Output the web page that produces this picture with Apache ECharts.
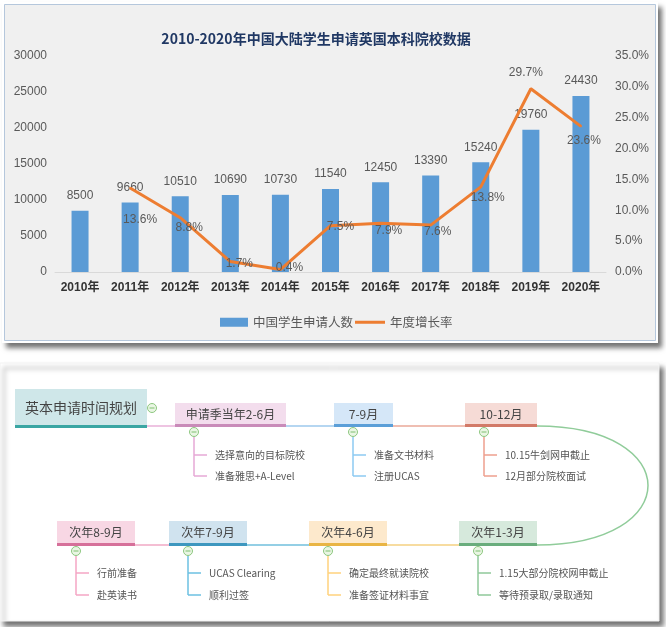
<!DOCTYPE html>
<html>
<head>
<meta charset="utf-8">
<script src="https://cdn.jsdelivr.net/npm/echarts@6/dist/echarts.min.js"></script>
<style>
html,body{margin:0;padding:0;background:#fff;}
#chart{width:666px;height:627px;}
</style>
</head>
<body>
<div id="chart"></div>
<script>
// ---------- data ----------
const chartTitle = '2010-2020年中国大陆学生申请英国本科院校数据';
const years = ['2010年','2011年','2012年','2013年','2014年','2015年','2016年','2017年','2018年','2019年','2020年'];
const applicants = [8500, 9660, 10510, 10690, 10730, 11540, 12450, 13390, 15240, 19760, 24430];
const growthRate = [null, 13.6, 8.8, 1.7, 0.4, 7.5, 7.9, 7.6, 13.8, 29.7, 23.6];
const seriesNames = ['中国学生申请人数', '年度增长率'];

const mapRoot = '英本申请时间规划';
const topStages = ['申请季当年2-6月', '7-9月', '10-12月'];
const topTasks = [
  ['选择意向的目标院校', '准备雅思+A-Level'],
  ['准备文书材料', '注册UCAS'],
  ['10.15牛剑网申截止', '12月部分院校面试']
];
const bottomStages = ['次年1-3月', '次年4-6月', '次年7-9月', '次年8-9月'];
const bottomTasks = [
  ['1.15大部分院校网申截止', '等待预录取/录取通知'],
  ['确定最终就读院校', '准备签证材料事宜'],
  ['UCAS Clearing', '顺利过签'],
  ['行前准备', '赴英读书']
];

// ---------- layout / style (not data) ----------
const labelOffsets = [[0,0],[10,32],[9,10],[9,2],[9,-2],[10,1],[8,7],[7,7],[7,11],[-5,-16],[3,14]];
const NUM_FONT = 'Liberation Sans, Noto Sans CJK SC, sans-serif';
const CJK_FONT = 'Noto Sans CJK SC, sans-serif';

const topBoxes = [[175,286],[334,393],[465,537]];
const topStyles = [
  {fill:'#f3dded', border:'#c98bb9', line:'#e8b0d8', branch:'#e6a8d6'},
  {fill:'#d5e7f8', border:'#5b9fd8', line:'#9cc8ec', branch:'#8ccaf2'},
  {fill:'#f6dbd6', border:'#d27a68', line:'#eaa898', branch:'#ee9f8e'}
];
const bottomBoxes = [[459,537],[309,387],[169,247],[57,135]];
const bottomStyles = [
  {fill:'#d6e9dc', border:'#6aad7d', line:'#90cc9a', branch:'#8fc99a'},
  {fill:'#fde9cc', border:'#e9b545', line:'#f5d080', branch:'#ffd27c'},
  {fill:'#d0e3ef', border:'#3e97bf', line:'#70bfdc', branch:'#6cc0e2'},
  {fill:'#f8d7e4', border:'#d6709a', line:'#f0a8c4', branch:'#f4a6c4'}
];

const g = [];
// panels
g.push({type:'rect', z:-30, silent:true, shape:{x:2,y:2,width:656,height:341},
  style:{fill:'#fff', shadowBlur:5, shadowOffsetX:4, shadowOffsetY:5, shadowColor:'rgba(0,0,0,0.55)'}});
g.push({type:'rect', z:-29, silent:true, shape:{x:4.5,y:4.5,width:651,height:336},
  style:{fill:'#f0f0f0', stroke:'#b5c7dc', lineWidth:1}});
g.push({type:'rect', z:-30, silent:true, shape:{x:0,y:363,width:659,height:258},
  style:{fill:'#fff', stroke:'#f2f2f2', lineWidth:1, shadowBlur:5, shadowOffsetX:4, shadowOffsetY:5, shadowColor:'rgba(0,0,0,0.55)'}});

function minus(cx, cy) {
  g.push({type:'circle', z:5, silent:true, shape:{cx:cx, cy:cy, r:4.5}, style:{fill:'#eaf6e4', stroke:'#8dc77f', lineWidth:1}});
  g.push({type:'line', z:6, silent:true, shape:{x1:cx-2.5, y1:cy, x2:cx+2.5, y2:cy}, style:{stroke:'#7fbf70', lineWidth:1}});
}
function stageBox(x0, x1, y0, y1, text, st, fs) {
  g.push({type:'rect', z:3, silent:true, shape:{x:x0, y:y0, width:x1-x0, height:y1-y0}, style:{fill:st.fill}});
  g.push({type:'rect', z:4, silent:true, shape:{x:x0, y:y1-3, width:x1-x0, height:3}, style:{fill:st.border}});
  g.push({type:'text', z:5, silent:true, x:(x0+x1)/2, y:(y0+y1)/2 - 1,
    style:{text:text, fill:'#444', font:fs+'px ' + CJK_FONT, textAlign:'center', textVerticalAlign:'middle'}});
}
function branches(xv, yTop, rows, tasks, color) {
  g.push({type:'line', z:2, silent:true, shape:{x1:xv, y1:yTop, x2:xv, y2:rows[1]}, style:{stroke:color, lineWidth:1.5}});
  rows.forEach(function(ry, i){
    g.push({type:'line', z:2, silent:true, shape:{x1:xv, y1:ry, x2:xv+13, y2:ry}, style:{stroke:color, lineWidth:1.5}});
    g.push({type:'text', z:5, silent:true, x:xv+21, y:ry,
      style:{text:tasks[i], fill:'#555', font:'10px ' + CJK_FONT, textVerticalAlign:'middle'}});
  });
}

// root
stageBox(15, 147, 389, 428, mapRoot, {fill:'#cfe7e9', border:'#3aa6a3'}, 14);
minus(152, 408);
// top row connectors
let prevX = 147;
topBoxes.forEach(function(b, i){
  g.push({type:'line', z:2, silent:true, shape:{x1:prevX, y1:426, x2:b[0], y2:426}, style:{stroke:topStyles[i].line, lineWidth:1.5}});
  stageBox(b[0], b[1], 403, 427, topStages[i], topStyles[i], 12);
  const xv = b[0] + 19;
  minus(xv, 432);
  branches(xv, 437, [455, 476], topTasks[i], topStyles[i].branch);
  prevX = b[1];
});
// curve to bottom row
g.push({type:'bezierCurve', z:2, silent:true,
  shape:{x1:537, y1:426, cpx1:685, cpy1:426, cpx2:685, cpy2:545, x2:537, y2:545},
  style:{stroke:bottomStyles[0].line, lineWidth:1.5, fill:null}});
prevX = 537;
bottomBoxes.forEach(function(b, i){
  g.push({type:'line', z:2, silent:true, shape:{x1:prevX, y1:545, x2:b[1], y2:545}, style:{stroke:bottomStyles[i].line, lineWidth:1.5}});
  stageBox(b[0], b[1], 521, 546, bottomStages[i], bottomStyles[i], 12);
  const xv = b[0] + 19;
  minus(xv, 551);
  branches(xv, 556, [573, 595], bottomTasks[i], bottomStyles[i].branch);
  prevX = b[0];
});

const chart = echarts.init(document.getElementById('chart'), null, {renderer:'canvas'});
chart.setOption({
  backgroundColor: '#ffffff',
  animation: false,
  title: {
    text: chartTitle, left: 311, top: 27, textAlign: 'center',
    textStyle: {color:'#203864', fontSize:14, fontWeight:'bold', fontFamily:CJK_FONT}
  },
  legend: [
    {data:[seriesNames[0]], left:215, top:311, itemWidth:28, itemHeight:9, icon:'rect', itemGap:0,
      textStyle:{color:'#595959', fontSize:12.5, fontFamily:CJK_FONT}},
    {data:[seriesNames[1]], left:350, top:311, itemWidth:30, itemHeight:3, icon:'rect', itemGap:0,
      textStyle:{color:'#595959', fontSize:12.5, fontFamily:CJK_FONT}}
  ],
  grid: {left:55, right:60, top:56, bottom:355, containLabel:false},
  xAxis: {
    type:'category', data:years,
    axisLine:{lineStyle:{color:'#d9d9d9', width:1}},
    axisTick:{show:false},
    axisLabel:{interval:0, color:'#333', fontSize:12, margin:10, fontFamily:NUM_FONT, fontWeight:'bold'}
  },
  yAxis: [
    {type:'value', min:0, max:30000, interval:5000,
      axisLine:{show:false}, axisTick:{show:false}, splitLine:{show:false},
      axisLabel:{color:'#595959', fontSize:12, margin:8, fontFamily:NUM_FONT,
        formatter:function(v){ return String(v); }}},
    {type:'value', min:0, max:35, interval:5, position:'right',
      axisLine:{show:false}, axisTick:{show:false}, splitLine:{show:false},
      axisLabel:{color:'#595959', fontSize:12, margin:9, fontFamily:NUM_FONT,
        formatter:function(v){ return v.toFixed(1) + '%'; }}}
  ],
  series: [
    {name:seriesNames[0], type:'bar', data:applicants, barWidth:17, yAxisIndex:0,
      itemStyle:{color:'#5b9bd5'},
      label:{show:true, position:'top', distance:9, color:'#595959', fontSize:12, fontFamily:NUM_FONT}},
    {name:seriesNames[1], type:'line', yAxisIndex:1, z:5,
      data: growthRate.map(function(v, i){
        return {value:v, label:{offset:labelOffsets[i]}};
      }),
      symbol:'circle', symbolSize:2, showSymbol:true,
      lineStyle:{color:'#ed7d31', width:3},
      itemStyle:{color:'#ed7d31'},
      label:{show:true, position:'inside', color:'#595959', fontSize:12, fontFamily:NUM_FONT,
        formatter:function(p){ return p.value == null ? '' : p.value.toFixed(1) + '%'; }}}
  ],
  graphic: g
});
</script>
</body>
</html>
